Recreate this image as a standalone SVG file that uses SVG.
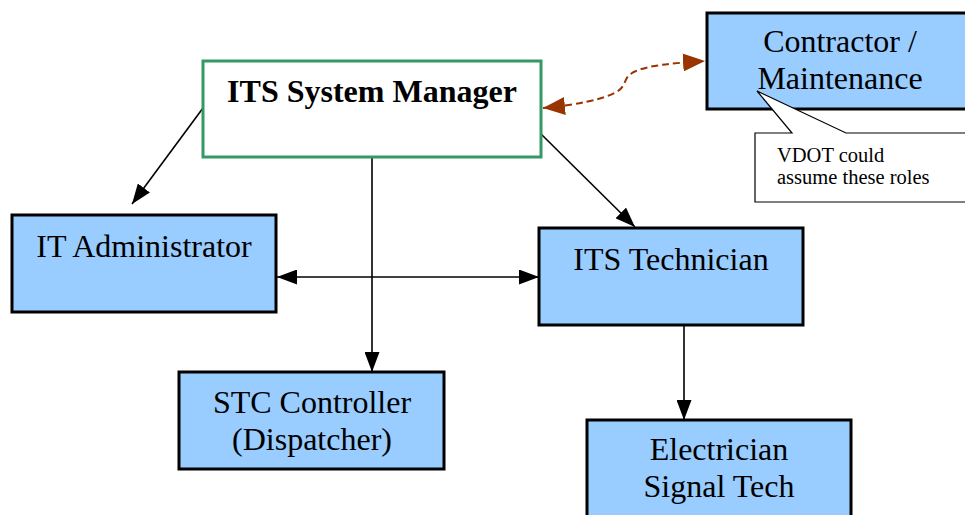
<svg xmlns="http://www.w3.org/2000/svg" width="965" height="515" viewBox="0 0 965 515">
  <style>
    .role { fill: #99ccff; stroke: #000000; stroke-width: 3; }
    .lead { fill: #ffffff; stroke: #339966; stroke-width: 3; }
    .label { font-family: "Liberation Serif", "Times New Roman", serif; font-size: 32px; fill: #000000; text-anchor: middle; }
    .bold { font-weight: bold; }
    .note { font-family: "Liberation Serif", "Times New Roman", serif; font-size: 20.5px; fill: #000000; }
    .link { fill: none; stroke: #000000; stroke-width: 1.6; }
    .shared { fill: none; stroke: #993300; stroke-width: 2; stroke-dasharray: 7 4; }
  </style>
  <defs>
    <marker id="arrow" viewBox="0 0 20 15" refX="20" refY="7.5" markerUnits="userSpaceOnUse" markerWidth="20" markerHeight="15" orient="auto-start-reverse">
      <path d="M0,0 L20,7.5 L0,15 Z" fill="#000000"/>
    </marker>
    <marker id="arrowBrown" viewBox="0 0 22 18" refX="22" refY="9" markerUnits="userSpaceOnUse" markerWidth="22" markerHeight="18" orient="auto-start-reverse">
      <path d="M0,0 L22,9 L0,18 Z" fill="#993300"/>
    </marker>
  </defs>

  <rect width="965" height="515" fill="#ffffff"/>

  <!-- connectors -->
  <g id="connectors">
    <line class="link" x1="203" y1="108" x2="132" y2="204" marker-end="url(#arrow)"/>
    <line class="link" x1="540" y1="133" x2="635" y2="227" marker-end="url(#arrow)"/>
    <line class="link" x1="372" y1="157" x2="372" y2="372" marker-end="url(#arrow)"/>
    <line class="link" x1="277" y1="277" x2="539" y2="277" marker-start="url(#arrow)" marker-end="url(#arrow)"/>
    <line class="link" x1="684" y1="325" x2="684" y2="420" marker-end="url(#arrow)"/>
    <path class="shared" d="M543,108 C575,105 603,100 618,91 C628,84 622,77 636,71 C650,65 675,63 705,61" marker-start="url(#arrowBrown)" marker-end="url(#arrowBrown)"/>
  </g>

  <!-- ITS System Manager -->
  <g id="its-system-manager">
    <rect class="lead" x="203" y="61" width="338" height="96"/>
    <text class="label bold" x="372" y="102">ITS System Manager</text>
  </g>

  <!-- Contractor / Maintenance -->
  <g id="contractor-maintenance">
    <rect class="role" x="707" y="13" width="270" height="96"/>
    <text class="label" x="840" y="52">Contractor /</text>
    <text class="label" x="840" y="89">Maintenance</text>
  </g>

  <!-- callout note -->
  <g id="vdot-note">
    <path d="M755,133 L792,133 L757,91 L846,133 L967,133 L967,202 L755,202 Z" fill="#ffffff" stroke="#000000" stroke-width="1.2"/>
    <text class="note" x="777" y="162">VDOT could</text>
    <text class="note" x="777" y="184">assume these roles</text>
  </g>

  <!-- IT Administrator -->
  <g id="it-administrator">
    <rect class="role" x="12" y="215" width="264" height="97"/>
    <text class="label" x="144" y="257">IT Administrator</text>
  </g>

  <!-- ITS Technician -->
  <g id="its-technician">
    <rect class="role" x="539" y="228" width="264" height="97"/>
    <text class="label" x="671" y="270">ITS Technician</text>
  </g>

  <!-- STC Controller -->
  <g id="stc-controller">
    <rect class="role" x="179" y="372" width="265" height="97"/>
    <text class="label" x="312" y="413">STC Controller</text>
    <text class="label" x="312" y="450">(Dispatcher)</text>
  </g>

  <!-- Electrician / Signal Tech -->
  <g id="electrician">
    <rect class="role" x="587" y="420" width="264" height="110"/>
    <text class="label" x="719" y="460">Electrician</text>
    <text class="label" x="719" y="497">Signal Tech</text>
  </g>
</svg>
